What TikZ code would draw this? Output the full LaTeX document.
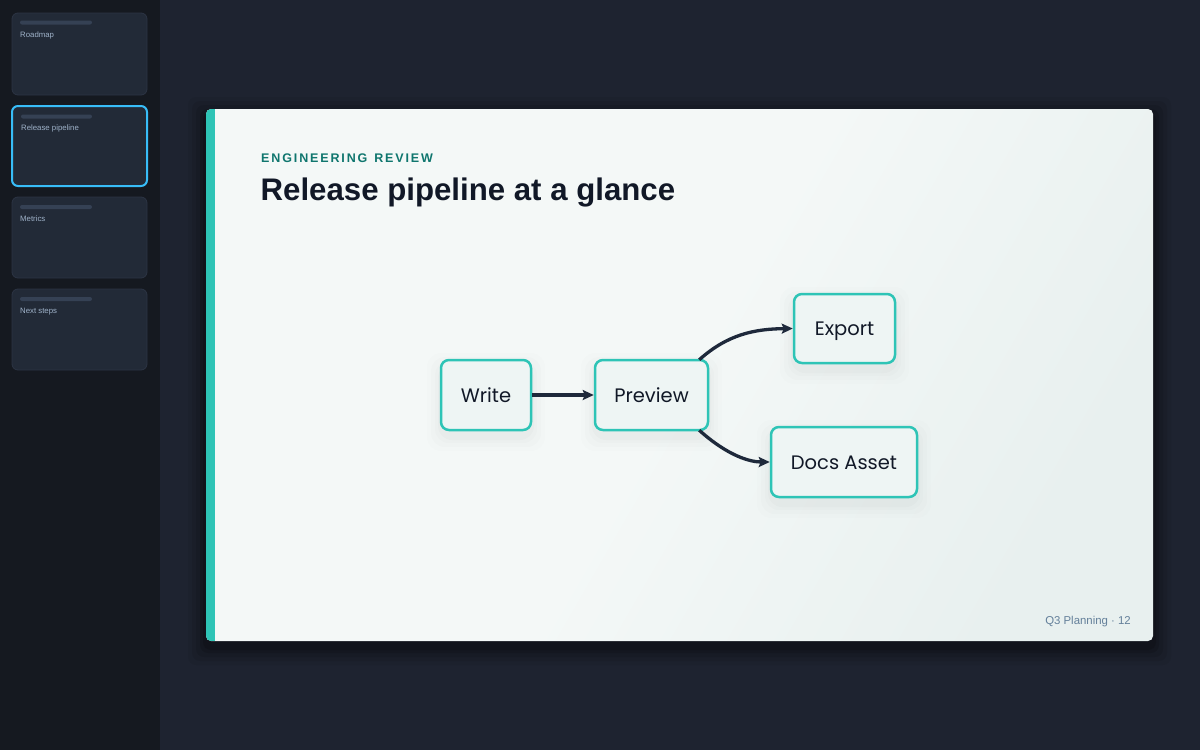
\documentclass[tikz,border=0pt]{standalone}
\usepackage{fontspec}
\setmainfont{Liberation Sans}
\newfontfamily\nodefont{Poppins}
\usetikzlibrary{arrows.meta,calc}
\definecolor{mainbg}{HTML}{1E2330}
\definecolor{sidebg}{HTML}{151920}
\definecolor{cardfill}{HTML}{222A37}
\definecolor{cardline}{HTML}{2C3444}
\definecolor{cardsel}{HTML}{38BDF8}
\definecolor{cardbar}{HTML}{354154}
\definecolor{cardtext}{HTML}{9FB2C9}
\definecolor{slidebg}{HTML}{F4F8F7}
\definecolor{slidebg2}{HTML}{E8F0EF}
\definecolor{accent}{HTML}{2EC4B6}
\definecolor{eyebrow}{HTML}{0F766E}
\definecolor{titlecol}{HTML}{111827}
\definecolor{nodefill}{HTML}{EEF5F4}
\definecolor{edgecol}{HTML}{1E293B}
\definecolor{footcol}{HTML}{64809A}
\tikzset{
  card/.style={draw=cardline, line width=0.8pt, fill=cardfill, rounded corners=6pt},
  cardbarst/.style={fill=cardbar, rounded corners=2pt},
  cardlabel/.style={anchor=base west, text=cardtext, font=\fontsize{7.8}{9}\selectfont, inner sep=0pt},
  flownode/.style={draw=accent, line width=2.5pt, fill=nodefill, rounded corners=8pt,
    minimum height=70pt, text=titlecol, font=\nodefont\fontsize{19.5}{22}\selectfont, inner sep=0pt,
    text height=14pt, text depth=0pt},
  flowedge/.style={draw=edgecol, line width=3.3pt, -{Stealth[length=11pt,width=10pt,inset=2pt]}},
}
\begin{document}
\begin{tikzpicture}[x=1pt,y=-1pt]
\useasboundingbox (0,0) rectangle (1200,750);
\fill[mainbg] (0,0) rectangle (1200,750);
\fill[sidebg] (0,0) rectangle (160,750);
% sidebar cards
\draw[card] (12,13) rectangle (147,95);
\fill[cardbarst] (20,20.5) rectangle (92,24.5);
\node[cardlabel] (c1) at (20,37.5) {Roadmap};
\draw[card, draw=cardsel, line width=2pt] (12,106) rectangle (147,186);
\fill[cardbarst] (21,114.5) rectangle (92,118.5);
\node[cardlabel] (c2) at (21,130.5) {Release pipeline};
\draw[card] (12,197) rectangle (147,278);
\fill[cardbarst] (20,205) rectangle (92,209);
\node[cardlabel] (c3) at (20,221) {Metrics};
\draw[card] (12,289) rectangle (147,370);
\fill[cardbarst] (20,297) rectangle (92,301);
\node[cardlabel] (c4) at (20,313) {Next steps};
% slide shadow
\foreach \d/\o in {18/0.05,14/0.07,10/0.09,6/0.12,3/0.15}{
  \fill[black, opacity=\o, rounded corners=8pt] (206-\d,109-\d+6) rectangle (1153+\d,641+\d+6);
}
% slide
\shade[rounded corners=5pt, top color=slidebg2, bottom color=slidebg, middle color=slidebg, shading angle=240]
  (206,109) rectangle (1153,641);
\begin{scope}
  \clip[rounded corners=5pt] (206,109) rectangle (1153,641);
  \fill[accent] (206,109) rectangle (215,641);
\end{scope}
% header
\node[anchor=base west, inner sep=0pt, text=eyebrow, font=\bfseries\fontsize{12.5}{14}\selectfont\addfontfeature{LetterSpace=15}] (eyebrowtxt) at (261,162) {ENGINEERING\hspace{1.5pt} REVIEW};
\node[anchor=base west, inner sep=0pt, text=titlecol, font=\bfseries\fontsize{31.2}{36}\selectfont] (title) at (260.5,200) {Release pipeline at a glance};
% node shadows
\foreach \x/\y/\w/\h in {486/395/90/70, 651.5/395/113/70, 844.5/328.5/101/69, 844/462/146/70}{
  \foreach \d/\o in {14/0.008,10/0.01,6/0.012,3/0.015}{
    \fill[black, opacity=\o, rounded corners=14pt] (\x-\w/2-\d,\y-\h/2-\d+7) rectangle (\x+\w/2+\d,\y+\h/2+\d+7);
  }
}
% nodes
\node[flownode, minimum width=90pt] (write) at (486,395) {Write};
\node[flownode, minimum width=113pt] (preview) at (651.5,395) {Preview};
\node[flownode, minimum width=101pt, minimum height=69pt] (export) at (844.5,328.5) {Export};
\node[flownode, minimum width=146pt] (docs) at (844,462) {Docs Asset};
% edges
\draw[flowedge] (write.east) -- (preview.west);
\draw[flowedge] ($(preview.north east)+(-10,1)$) .. controls (728,334) and (755,329) .. (export.west);
\draw[flowedge] ($(preview.south east)+(-10,-1)$) .. controls (728,456) and (750,462) .. (docs.west);
% footer
\node[anchor=base east, inner sep=0pt, text=footcol, font=\fontsize{11.4}{14}\selectfont] (footer) at (1131,624) {Q3 Planning · 12};
\end{tikzpicture}
\end{document}
